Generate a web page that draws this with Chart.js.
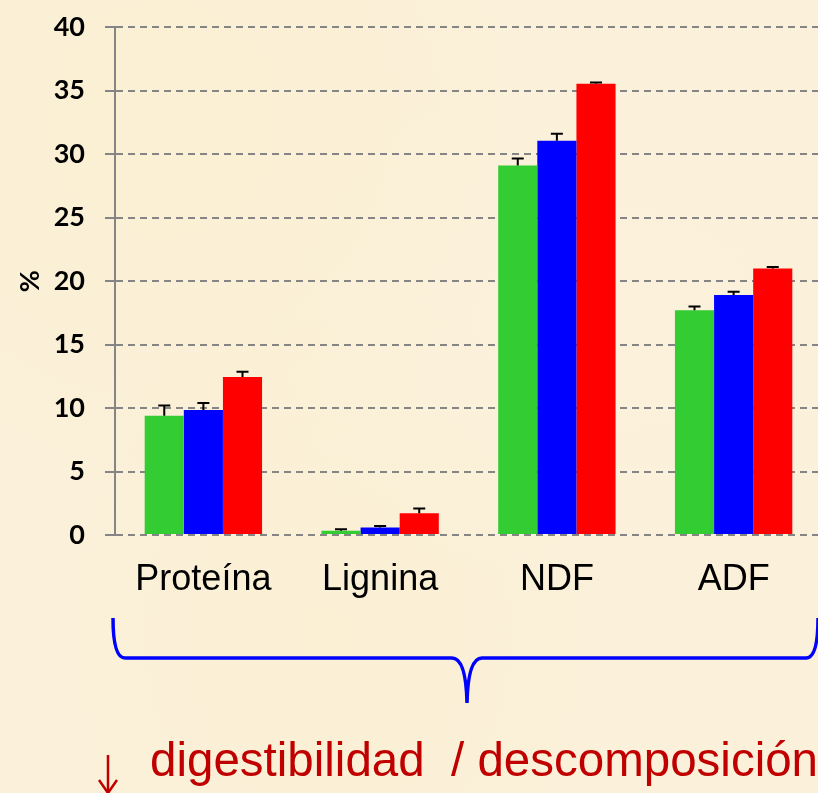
<!DOCTYPE html>
<html>
<head>
<meta charset="utf-8">
<script src="https://cdn.jsdelivr.net/npm/chart.js@4.4.1/dist/chart.umd.min.js"></script>
<style>
    html, body {
        margin: 0;
        padding: 0;
        width: 818px;
        height: 793px;
        overflow: hidden;
    }
    body {
        position: relative;
        background-color: #fbf0d9;
        background-image:
            radial-gradient(ellipse at 20% 15%, rgba(250, 240, 205, 0.5), transparent 40%),
            radial-gradient(ellipse at 75% 40%, rgba(252, 243, 222, 0.5), transparent 45%),
            radial-gradient(ellipse at 40% 80%, rgba(250, 240, 208, 0.5), transparent 40%);
    }
    #wrap {
        position: absolute;
        left: 0;
        top: -9px;
        width: 830px;
        height: 619px;
    }
    #deco {
        position: absolute;
        left: 0;
        top: 0;
    }
    #note {
        position: absolute;
        left: 150px;
        top: 732px;
        font-family: "Liberation Sans", Arial, sans-serif;
        font-size: 47.5px;
        color: #c00000;
        white-space: pre;
        line-height: 56px;
    }
</style>
</head>
<body>
<div id="wrap"><canvas id="chart"></canvas></div>
<svg id="deco" width="818" height="793">
    <!-- brace -->
    <path d="M113 618 Q113 658 125 658 L452 658 Q466 658 467 703 Q468 658 482 658 L806 658 Q818 658 818 618"
          fill="none" stroke="#0000ff" stroke-width="3.5"/>
    <!-- arrow -->
    <line x1="108" y1="755" x2="108" y2="792" stroke="#c00000" stroke-width="2.5"/>
    <path d="M99 780 L108 793 L117 780" fill="none" stroke="#c00000" stroke-width="2.5"/>
</svg>
<div id="note">digestibilidad  / descomposición</div>

<script>
// categories and series
const categories = ['Proteína', 'Lignina', 'NDF', 'ADF'];
const greenValues = [9.4, 0.34, 29.1, 17.7];
const blueValues = [9.85, 0.6, 31.05, 18.9];
const redValues = [12.45, 1.72, 35.55, 21.0];

// upward error bars (same units as values)
const greenErrors = [0.8, 0.12, 0.55, 0.3];
const blueErrors = [0.55, 0.1, 0.55, 0.27];
const redErrors = [0.4, 0.37, 0.1, 0.12];

const yTicks = [0, 5, 10, 15, 20, 25, 30, 35, 40];

// draws error bars on top of each bar
const errorBarPlugin = {
    id: 'errorBars',
    afterDatasetsDraw(chart) {
        const ctx = chart.ctx;
        const yScale = chart.scales.y;
        chart.data.datasets.forEach((ds, i) => {
            const meta = chart.getDatasetMeta(i);
            meta.data.forEach((bar, j) => {
                const top = yScale.getPixelForValue(ds.data[j] + ds.errors[j]);
                ctx.save();
                ctx.strokeStyle = '#000';
                ctx.lineWidth = 2;
                ctx.beginPath();
                ctx.moveTo(bar.x, bar.y);
                ctx.lineTo(bar.x, top);
                ctx.moveTo(bar.x - 6, top);
                ctx.lineTo(bar.x + 6, top);
                ctx.stroke();
                ctx.restore();
            });
        });
    }
};

const chart = new Chart(document.getElementById('chart').getContext('2d'), {
    type: 'bar',
    data: {
        labels: categories,
        datasets: [
            { label: 'A', data: greenValues, errors: greenErrors, backgroundColor: '#33cc33' },
            { label: 'B', data: blueValues, errors: blueErrors, backgroundColor: '#0000ff' },
            { label: 'C', data: redValues, errors: redErrors, backgroundColor: '#ff0000' }
        ]
    },
    options: {
        responsive: true,
        maintainAspectRatio: false,
        animation: false,
        layout: {
            padding: { top: 0, right: 8, bottom: 0, left: 0 }
        },
        plugins: {
            legend: { display: false },
            tooltip: { enabled: false }
        },
        datasets: {
            bar: {
                barPercentage: 1,
                categoryPercentage: 0.664
            }
        },
        scales: {
            x: {
                grid: { display: false, drawTicks: false },
                border: { display: false },
                ticks: {
                    color: '#000',
                    padding: 23,
                    font: { family: '"Liberation Sans", Arial, sans-serif', size: 36 }
                },
                afterFit(scale) {
                    scale.height = 75;
                }
            },
            y: {
                min: 0,
                max: 40,
                afterBuildTicks(scale) {
                    scale.ticks = yTicks.map(v => ({ value: v }));
                },
                afterFit(scale) {
                    scale.width = 115;
                },
                grid: {
                    color: '#858585',
                    lineWidth: 2,
                    tickLength: 10,
                    tickColor: '#858585',
                    tickWidth: 2,
                    tickBorderDash: []
                },
                border: {
                    display: true,
                    color: '#858585',
                    width: 2,
                    dash: [7, 5]
                },
                ticks: {
                    color: '#000',
                    padding: 20,
                    font: { family: 'Lato, "Open Sans", sans-serif', size: 27, weight: 'bold' }
                },
                title: {
                    display: true,
                    text: '%',
                    color: '#000',
                    padding: { top: 14, bottom: 0 },
                    font: { family: 'Lato, "Open Sans", sans-serif', size: 27, weight: 'bold' }
                }
            }
        }
    },
    plugins: [errorBarPlugin]
});
</script>
</body>
</html>
